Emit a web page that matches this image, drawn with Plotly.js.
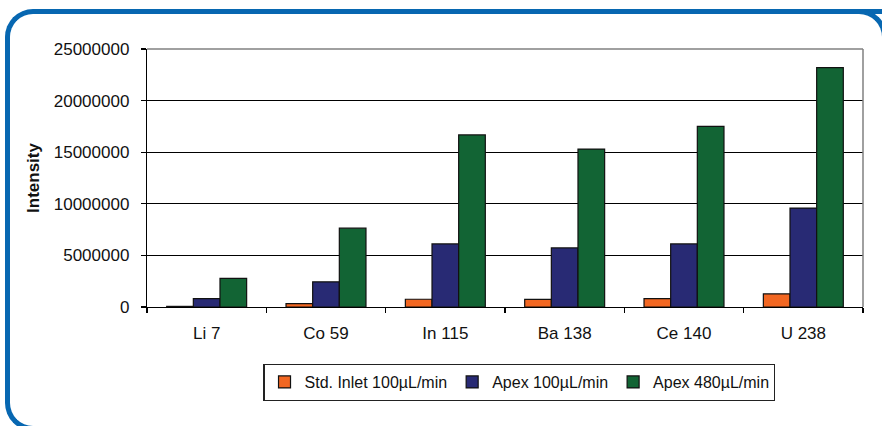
<!DOCTYPE html>
<html>
<head>
<meta charset="utf-8">
<script src="https://cdn.plot.ly/plotly-3.0.1.min.js"></script>
<style>
  html, body { margin: 0; padding: 0; background: #ffffff; overflow: hidden; }
  #wrap { position: relative; width: 882px; height: 426px; overflow: hidden; }
  #chart { position: absolute; left: 0; top: 0; width: 882px; height: 426px; }
  #frame { position: absolute; left: 5px; top: 9px; width: 884px; height: 422px;
           box-sizing: border-box; border: 5px solid #0767b1; border-right: none;
           border-radius: 28px 0 0 28px;
           pointer-events: none; }
  #corner { position: absolute; left: 835px; top: 9px; width: 52px; height: 28px;
            box-sizing: border-box; border-top: 5px solid #0767b1; border-right: 5px solid #0767b1;
            border-top-right-radius: 28px; pointer-events: none; }
</style>
</head>
<body>
<div id="wrap">
  <div id="chart"></div>
  <div id="frame"></div>
  <div id="corner"></div>
</div>
<script>
const categories = ['Li 7', 'Co 59', 'In 115', 'Ba 138', 'Ce 140', 'U 238'];
const stdInlet100 = [60000, 330000, 750000, 740000, 820000, 1270000];
const apex100 = [820000, 2440000, 6110000, 5720000, 6110000, 9590000];
const apex480 = [2770000, 7640000, 16670000, 15300000, 17510000, 23200000];
const seriesNames = ['Std. Inlet 100\u00b5L/min', 'Apex 100\u00b5L/min', 'Apex 480\u00b5L/min'];
const yTickValues = [0, 5000000, 10000000, 15000000, 20000000, 25000000];

const font = 'Liberation Sans, Arial, sans-serif';
const colors = ['#f26722', '#282a74', '#126434'];
const seriesValues = [stdInlet100, apex100, apex480];

const traces = seriesValues.map((vals, i) => ({
  type: 'bar',
  x: categories,
  y: vals,
  name: seriesNames[i],
  marker: { color: colors[i], line: { color: '#111111', width: 1.2 } }
}));

const layout = {
  width: 882,
  height: 426,
  margin: { l: 147, r: 19, t: 49, b: 119.3 },
  paper_bgcolor: '#ffffff',
  plot_bgcolor: '#ffffff',
  font: { family: font, size: 17, color: '#111111' },
  barmode: 'group',
  bargap: 0.33,
  bargroupgap: 0,
  showlegend: true,
  legend: {
    orientation: 'h',
    x: 0.52, xanchor: 'center',
    y: -0.292, yanchor: 'middle',
    bordercolor: '#222222', borderwidth: 1.2,
    bgcolor: '#ffffff',
    font: { family: font, size: 16, color: '#111111' },
    itemwidth: 30
  },
  xaxis: {
    type: 'category',
    showgrid: false,
    showline: true, linecolor: '#000000', linewidth: 1.2,
    ticks: 'outside', tickson: 'boundaries', ticklen: 5, tickcolor: '#000000', tickwidth: 1.2,
    ticklabelstandoff: 10,
    tickfont: { family: font, size: 17, color: '#111111' },
    fixedrange: true
  },
  yaxis: {
    range: [0, 25000000],
    tickmode: 'array',
    tickvals: yTickValues,
    ticktext: yTickValues.map(v => String(v)),
    showgrid: true, gridcolor: '#000000', gridwidth: 1,
    zeroline: false,
    showline: true, linecolor: '#000000', linewidth: 1.2,
    ticks: 'outside', ticklen: 5, tickcolor: '#000000', tickwidth: 1.2,
    ticklabelstandoff: 8,
    tickfont: { family: font, size: 17, color: '#111111' },
    title: { text: '<b>Intensity</b>', standoff: 9, font: { family: font, size: 17, color: '#111111' } },
    fixedrange: true
  },
  shapes: [
    { type: 'line', xref: 'paper', yref: 'paper', x0: 0, x1: 1, y0: 1, y1: 1,
      line: { color: '#808080', width: 1.5 } },
    { type: 'line', xref: 'paper', yref: 'paper', x0: 1, x1: 1, y0: 0, y1: 1,
      line: { color: '#808080', width: 1.5 } }
  ]
};

Plotly.newPlot('chart', traces, layout, { displayModeBar: false, staticPlot: true });
</script>
</body>
</html>
